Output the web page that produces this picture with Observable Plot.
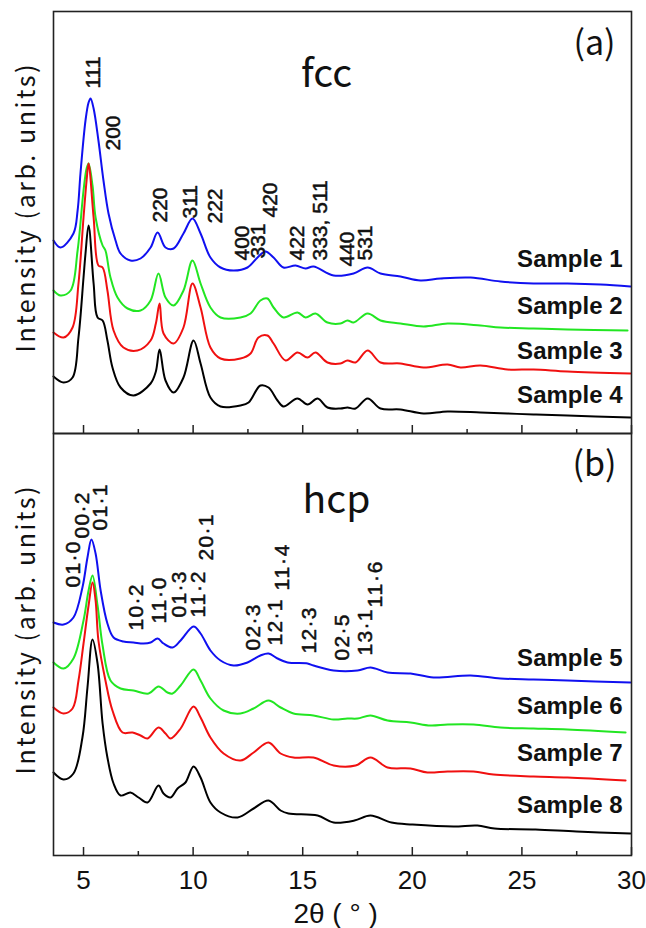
<!DOCTYPE html>
<html><head><meta charset="utf-8">
<script src="https://cdn.jsdelivr.net/npm/d3@7"></script>
<script src="https://cdn.jsdelivr.net/npm/@observablehq/plot@0.6"></script>
<style>
body{margin:0;background:#fff}
#chart svg{display:block;overflow:visible}
#bottom{margin-top:-2px}
</style>
</head><body><div id="chart"><div id="top"></div><div id="bottom"></div></div>
<script>
// ---------- data (2θ in degrees, intensity in arbitrary units incl. stacking offset) ----------
const sampleNames = ["Sample 1","Sample 2","Sample 3","Sample 4","Sample 5","Sample 6","Sample 7","Sample 8"];
const sampleColors = ["#1010f0","#22e622","#f01010","#000000","#1010f0","#22e622","#f01010","#000000"];

const theta1 = [3.63,3.95,4.54,4.73,4.86,5.09,5.23,5.32,5.46,5.68,5.91,6.14,6.46,6.69,7.14,7.60,8.06,8.38,8.74,9.11,9.56,9.97,10.34,10.79,11.25,11.84,12.48,12.94,13.30,13.67,14.12,14.67,15.13,15.49,16.41,17.32,17.96,18.55,19.46,20.37,21.29,22.66,24.02,25.53,27.08,28.59,29.95];
const int1   = [193,186,200,223,260,313,331,335,325,293,253,220,193,180,173,175,186,201,186,185,200,215,200,176,166,163,166,176,182,176,166,168,165,167,158,160,166,160,157,153,155,156,152,150,150,149,147];

const theta2 = [3.63,3.95,4.41,4.73,5.00,5.14,5.23,5.41,5.55,5.87,6.00,6.23,6.55,7.01,7.60,8.06,8.42,8.74,9.11,9.56,9.97,10.34,10.79,11.25,12.16,12.62,13.07,13.39,13.67,14.12,14.76,15.13,15.58,16.13,16.72,17.04,17.32,17.96,18.55,19.46,20.51,21.61,23.11,24.02,25.53,27.08,29.82];
const int2   = [143,138,143,183,243,265,270,248,216,188,183,156,136,125,123,133,160,136,128,143,173,150,126,116,116,120,133,135,126,116,121,116,120,111,110,113,111,120,113,110,107,110,108,106,105,104,103];

const theta3 = [3.63,4.09,4.50,4.77,5.00,5.14,5.23,5.46,5.68,5.87,6.09,6.37,6.82,7.46,8.06,8.30,8.47,8.65,9.11,9.56,9.97,10.34,10.79,11.25,12.16,12.62,12.98,13.39,13.67,14.22,14.76,15.22,15.58,16.13,16.72,17.04,17.41,17.96,18.55,19.46,20.51,21.61,22.20,23.11,24.34,25.53,27.08,29.95];
const int3   = [101,96,106,150,216,253,270,216,168,166,143,103,86,83,93,110,130,100,90,106,150,126,86,75,75,80,96,98,90,73,81,76,81,71,70,73,71,83,71,70,66,69,66,68,64,64,62,60];

const theta4 = [3.63,4.09,4.50,4.77,5.00,5.09,5.23,5.46,5.64,5.87,6.09,6.32,6.69,7.28,8.06,8.30,8.47,8.74,9.11,9.56,10.02,10.34,10.79,11.25,12.16,12.53,13.07,13.44,13.85,14.12,14.76,15.22,15.68,16.13,16.72,17.04,17.41,17.96,18.55,19.46,20.51,21.61,23.11,24.34,25.53,27.08,29.95];
const int4   = [57,51,56,96,156,180,208,150,116,113,93,66,46,38,50,62,84,53,41,56,93,70,36,27,28,31,48,46,33,27,35,29,35,26,25,26,25,35,25,24,20,22,21,20,19,18,16];

const theta5 = [3.63,4.09,4.54,4.95,5.18,5.36,5.55,5.78,6.09,6.37,6.82,7.28,7.74,8.06,8.38,8.65,9.06,9.43,10.02,10.34,10.79,11.25,11.84,12.48,13.07,13.44,13.85,14.31,15.22,15.49,16.41,17.50,18.09,18.87,19.92,20.97,22.66,24.02,25.53,27.08,29.95];
const int5   = [233,231,238,268,298,316,302,265,232,218,214,213,212,213,217,212,208,215,229,222,205,195,190,193,200,202,197,193,192,190,185,185,188,183,182,178,180,177,176,175,173];

const theta6 = [3.63,4.09,4.54,5.00,5.23,5.41,5.64,5.87,6.23,6.69,7.28,7.97,8.42,8.83,9.06,9.43,10.02,10.34,10.79,11.39,12.16,12.76,13.44,13.99,14.58,15.49,16.41,17.04,17.50,18.09,18.87,19.92,20.83,21.61,22.79,24.02,25.53,27.08,29.73];
const int6   = [193,187,197,235,265,280,250,210,175,167,165,162,169,163,162,170,186,175,157,145,142,147,155,148,142,140,136,137,137,140,135,133,130,131,131,128,127,126,123];

const theta7 = [3.63,4.09,4.50,4.77,5.00,5.23,5.41,5.55,5.68,6.00,6.32,6.78,7.24,7.60,7.92,8.42,8.74,8.97,9.43,10.02,10.34,10.79,11.39,12.16,12.76,13.44,13.99,14.58,15.49,16.41,17.41,18.09,18.87,19.92,20.69,21.61,22.79,23.70,25.53,27.08,29.73];
const int7   = [148,142,147,175,212,250,273,255,215,175,145,123,123,120,117,128,122,117,127,149,138,118,102,95,103,113,102,98,98,90,90,98,88,87,83,84,84,81,79,78,75];

const theta8 = [3.63,4.09,4.54,4.95,5.18,5.41,5.64,5.87,6.09,6.37,6.69,7.14,7.51,7.92,8.42,8.65,8.97,9.29,9.65,10.02,10.34,10.79,11.25,12.03,12.76,13.44,13.99,14.35,15.68,16.41,17.36,18.09,19.05,20.01,21.88,22.97,23.75,25.62,27.49,29.95];
const int8   = [83,76,82,118,168,216,192,132,98,72,60,63,58,53,70,62,58,67,73,89,78,53,43,38,47,55,45,42,40,33,35,40,33,31,29,30,27,26,24,22];

// reflection labels
const fccLabels = ["111","200","220","311","222","400","331","420","422","333, 511","440","531"];
const fccTheta  = [5.46,6.37,8.51,9.88,11.02,12.25,12.98,13.53,14.76,15.81,17.04,17.86];
const fccY      = [345,283,211,215,210,173,175,216,173,173,167,173];

const hcpLabels = ["01·0","00·2","01·1","10·2","11·0","01·3","11·2","20·1","02·3","12·1","11·4","12·3","02·5","13·1","11·6"];
const hcpTheta  = [4.52,4.95,5.78,7.42,8.47,9.38,10.25,10.61,12.76,13.76,14.08,15.31,16.82,17.86,18.32];
const hcpY      = [268,317,325,225,232,238,238,295,205,210,265,202,195,200,248];

// sample-name label heights
const sampleLabelYTop = [167,120,75,31];
const sampleLabelYBottom = [190,142,95,43];

const xMajorTicks = [5,10,15,20,25,30];
const xMinorTicks = [7.5,12.5,17.5,22.5,27.5];
const xDomain = [3.63,30];
const yDomain = [0,422];
const yLabel = "Intensity (arb. units)";
const xLabel = "2θ ( ° )";

// ---------- build ----------
const thetas = [theta1,theta2,theta3,theta4,theta5,theta6,theta7,theta8];
const ints = [int1,int2,int3,int4,int5,int6,int7,int8];
function rowsFor(idx){
  return idx.flatMap(k => thetas[k].map((t,i)=>({theta:t, intensity:ints[k][i], name:sampleNames[k]})));
}
const SANS = "'Liberation Sans', Arial, sans-serif";
const GOTHIC = "'Noto Sans CJK JP', 'Liberation Sans', sans-serif";

function panel(opts){
  const {idx, labels, lx, ly, names, nameY, title, titleX, titleY, tag, tagY, height, marginTop, marginBottom, bottomAxis, stretchLabels} = opts;
  const rows = rowsFor(idx);
  const lab = labels.map((t,i)=>({t, x:lx[i], y:ly[i]}));
  const sl = names.map((n,i)=>({n, y:nameY[i]}));
  const marks = [
    Plot.line(rows, {x:"theta", y:"intensity", z:"name", stroke:"name", strokeWidth:2, curve:"catmull-rom"}),
    Plot.tickX(xMajorTicks, {x:d=>d, insetTop:414, stroke:"#222", strokeWidth:1.5}),
    Plot.tickX(xMinorTicks, {x:d=>d, insetTop:418, stroke:"#222", strokeWidth:1.5}),
    Plot.frame({stroke:"#222", strokeWidth:1.6}),
    Plot.text(lab, {x:"x", y:"y", text:"t", rotate:-90, textAnchor:"start", lineAnchor:"middle", fontSize:21, fontFamily:SANS, fill:"#111", stroke:"#111", strokeWidth:0.5}),
    Plot.text(sl, {x:29.59, y:"y", text:"n", textAnchor:"end", lineAnchor:"bottom", fontSize:24, fontWeight:"bold", fontFamily:SANS, fill:"#111"}),
    Plot.text([title], {x:titleX, y:titleY, textAnchor:"middle", lineAnchor:"bottom", fontSize:39, fontFamily:GOTHIC, fill:"#111"}),
    Plot.text([tag], {x:28.31, y:tagY, textAnchor:"middle", lineAnchor:"bottom", fontSize:34, fontFamily:GOTHIC, fill:"#111"}),
    Plot.text([yLabel], {frameAnchor:"left", dx:-27, dy:-14, rotate:-90, textAnchor:"middle", lineAnchor:"middle", fontSize:25, fontFamily:GOTHIC, fill:"#111"})
  ];
  if (bottomAxis) {
    marks.push(Plot.text(xMajorTicks, {x:d=>d, text:d=>String(d), frameAnchor:"bottom", lineAnchor:"top", dy:15, fontSize:26, fontFamily:SANS, fill:"#111"}));
    marks.push(Plot.text([xLabel], {x:16.5, frameAnchor:"bottom", lineAnchor:"bottom", dy:67, fontSize:28, fontFamily:SANS, fill:"#111"}));
  }
  const svg = Plot.plot({
    width:646, height, marginLeft:53, marginRight:15, marginTop, marginBottom,
    x:{domain:xDomain, axis:null},
    y:{domain:yDomain, axis:null},
    color:{type:"ordinal", domain:sampleNames, range:sampleColors},
    marks
  });
  d3.select(svg).selectAll("text").filter(function(){return this.textContent === yLabel;})
    .attr("textLength", 288).attr("lengthAdjust", "spacing");
  if (stretchLabels) {
    d3.select(svg).selectAll("text").filter(function(){return labels.includes(this.textContent);})
      .attr("textLength", 46).attr("lengthAdjust", "spacing");
  }
  return svg;
}

document.getElementById("top").append(panel({
  idx:[0,1,2,3], labels:fccLabels, lx:fccTheta, ly:fccY,
  names:sampleNames.slice(0,4), nameY:sampleLabelYTop,
  title:"fcc", titleX:16.09, titleY:347, tag:"(a)", tagY:379,
  height:434, marginTop:11, marginBottom:1, bottomAxis:false, stretchLabels:false
}));
document.getElementById("bottom").append(panel({
  idx:[4,5,6,7], labels:hcpLabels, lx:hcpTheta, ly:hcpY,
  names:sampleNames.slice(4), nameY:sampleLabelYBottom,
  title:"hcp", titleX:16.54, titleY:343, tag:"(b)", tagY:380,
  height:496, marginTop:1, marginBottom:73, bottomAxis:true, stretchLabels:true
}));
</script></body></html>
